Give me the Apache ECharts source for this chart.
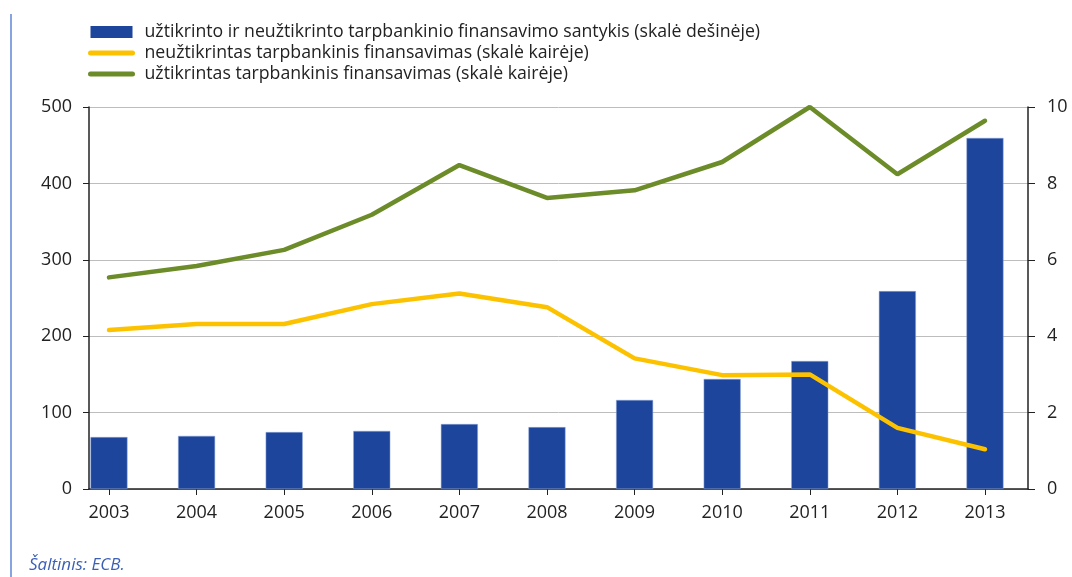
<!DOCTYPE html>
<html>
<head>
<meta charset="utf-8">
<script src="https://cdn.jsdelivr.net/npm/echarts@6/dist/echarts.min.js"></script>
<style>
  html, body { margin: 0; padding: 0; background: #fff; }
  #main { width: 1072px; height: 577px; }
</style>
</head>
<body>
<div id="main"></div>
<script>
var years = [2003, 2004, 2005, 2006, 2007, 2008, 2009, 2010, 2011, 2012, 2013];
// santykis (dešinė skalė)
var ratio = [1.36, 1.39, 1.49, 1.52, 1.70, 1.62, 2.33, 2.88, 3.35, 5.18, 9.19];
// neužtikrintas (kairė skalė)
var unsecured = [208, 216, 216, 242, 256, 238, 171, 149, 150, 80, 52];
// užtikrintas (kairė skalė)
var secured = [277, 292, 313, 359, 424, 381, 391, 428, 500, 412, 482];

var names = [
    'užtikrinto ir neužtikrinto tarpbankinio finansavimo santykis (skalė dešinėje)',
    'neužtikrintas tarpbankinis finansavimas (skalė kairėje)',
    'užtikrintas tarpbankinis finansavimas (skalė kairėje)'
];

var blue = '#1d459c', yellow = '#fcc200', green = '#6b8c28';

function pairs(vals) {
    return years.map(function (y, i) { return [y, vals[i]]; });
}

var font = '"Open Sans", "Noto Sans", sans-serif';
var myChart = echarts.init(document.getElementById('main'));
var option = {
    animation: false,
    textStyle: { fontFamily: font },
    legend: {
        orient: 'vertical',
        left: 83,
        top: 17,
        itemWidth: 42,
        itemHeight: 12,
        itemGap: 1,
        textStyle: { fontSize: 17.7, lineHeight: 20, color: '#222', fontFamily: font, padding: [0, 0, 0, 7] },
        data: [
            { name: names[0], icon: 'rect', itemStyle: { color: blue, borderWidth: 0 } },
            { name: names[1], itemStyle: { opacity: 0 }, lineStyle: { color: yellow, width: 5, cap: 'round' } },
            { name: names[2], itemStyle: { opacity: 0 }, lineStyle: { color: green, width: 5, cap: 'round' } }
        ]
    },
    grid: { left: 89, right: 44, top: 107, bottom: 88 },
    xAxis: {
        type: 'value',
        min: 2002.772,
        max: 2013.491,
        splitLine: { show: false },
        axisLine: { show: true, lineStyle: { color: '#222', width: 1.5 } },
        axisTick: { show: true, length: 6, customValues: years, lineStyle: { color: '#222' } },
        axisLabel: { customValues: years, fontSize: 18, color: '#222', margin: 15,
            formatter: function (v) { return String(v); } }
    },
    yAxis: [
        {
            type: 'value', min: 0, max: 500, interval: 100,
            axisLine: { show: true, lineStyle: { color: '#222', width: 1.5 } },
            axisTick: { show: true, length: 6, lineStyle: { color: '#222' } },
            axisLabel: { fontSize: 18, color: '#222', margin: 17 },
            splitLine: { show: true, lineStyle: { color: '#bdbdbd', width: 1 } }
        },
        {
            type: 'value', min: 0, max: 10, interval: 2,
            axisLine: { show: true, lineStyle: { color: '#222', width: 1.5 } },
            axisTick: { show: true, length: 7, lineStyle: { color: '#222' } },
            axisLabel: { fontSize: 18, color: '#222', margin: 19 },
            splitLine: { show: false }
        }
    ],
    graphic: [
        { type: 'line', shape: { x1: 11, y1: 14, x2: 11, y2: 577 },
          style: { stroke: '#5f86d6', lineWidth: 1.5 } },
        { type: 'text', left: 29, top: 557,
          style: { text: 'Šaltinis: ECB.', fill: '#3a5fb5', font: 'italic 17px ' + font } }
    ],
    series: [
        {
            name: names[0],
            type: 'bar',
            yAxisIndex: 1,
            barWidth: 37,
            itemStyle: { color: blue, borderColor: '#8fa6d8', borderWidth: 0.5 },
            data: pairs(ratio)
        },
        {
            name: names[1],
            type: 'line',
            yAxisIndex: 0,
            symbol: 'none',
            lineStyle: { color: yellow, width: 4.5, cap: 'round' },
            itemStyle: { color: yellow },
            z: 3,
            data: pairs(unsecured)
        },
        {
            name: names[2],
            type: 'line',
            yAxisIndex: 0,
            symbol: 'none',
            lineStyle: { color: green, width: 4.5, cap: 'round' },
            itemStyle: { color: green },
            z: 3,
            data: pairs(secured)
        }
    ]
};
myChart.setOption(option);
</script>
</body>
</html>
